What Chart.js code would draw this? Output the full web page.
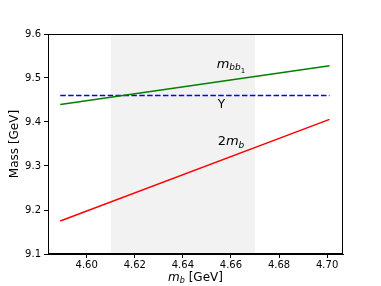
<!DOCTYPE html>
<html>
<head>
<meta charset="utf-8">
<script src="https://cdn.jsdelivr.net/npm/chart.js@4"></script>
<style>
  html, body { margin: 0; padding: 0; background: #fff; }
  canvas { display: block; }
</style>
</head>
<body>
<canvas id="grafico" width="381" height="286"></canvas>
<script>
// dados
const mbValues = [4.589, 4.701];
const mbb1Values = [9.440, 9.528];
const upsilonValues = [9.46, 9.46];
const twoMbValues = [9.175, 9.406];
const bandRange = [4.61, 4.67];
const xTicks = [4.60, 4.62, 4.64, 4.66, 4.68, 4.70];
const yTicks = [9.1, 9.2, 9.3, 9.4, 9.5, 9.6];
const xLimits = [4.5839, 4.7066];
const yLimits = [9.1, 9.6];

// posições dos rótulos (coordenadas de dados)
const labelMbb1 = { x: 4.660, y: 9.530 };
const labelUpsilon = { x: 4.656, y: 9.440 };
const labelTwoMb = { x: 4.660, y: 9.355 };

const FONT = "'DejaVu Sans', sans-serif";

function pontos(ys) {
    return mbValues.map((x, i) => ({ x: x, y: ys[i] }));
}

// faixa sombreada, caixa e textos
const extras = {
    id: 'extras',
    beforeDatasetsDraw(chart) {
        const ctx = chart.ctx, a = chart.chartArea;
        const xs = chart.scales.x;
        const x0 = xs.getPixelForValue(bandRange[0]);
        const x1 = xs.getPixelForValue(bandRange[1]);
        ctx.save();
        ctx.fillStyle = '#f2f2f2';
        ctx.fillRect(x0, a.top, x1 - x0, a.bottom - a.top);
        ctx.restore();
    },
    afterDatasetsDraw(chart) {
        const ctx = chart.ctx, a = chart.chartArea;
        const xs = chart.scales.x, ys = chart.scales.y;
        ctx.save();
        ctx.strokeStyle = '#000';
        ctx.lineWidth = 1;
        ctx.strokeRect(Math.round(a.left) + 0.5, Math.round(a.top) + 0.5,
            Math.round(a.right - a.left) - 1, Math.round(a.bottom - a.top) - 1);

        ctx.fillStyle = '#000';
        ctx.textBaseline = 'middle';

        // m_{bb_1}
        let px = xs.getPixelForValue(labelMbb1.x), py = ys.getPixelForValue(labelMbb1.y);
        ctx.font = 'italic 13px ' + FONT;
        let w1 = ctx.measureText('m').width;
        ctx.font = 'italic 9px ' + FONT;
        let w2 = ctx.measureText('bb').width;
        ctx.font = '7px ' + FONT;
        let w3 = ctx.measureText('1').width;
        let sx = px - (w1 + w2 + w3) / 2;
        ctx.textAlign = 'left';
        ctx.font = 'italic 13px ' + FONT;
        ctx.fillText('m', sx, py);
        ctx.font = 'italic 9px ' + FONT;
        ctx.fillText('bb', sx + w1, py + 3);
        ctx.font = '7px ' + FONT;
        ctx.fillText('1', sx + w1 + w2, py + 6);

        // Υ
        px = xs.getPixelForValue(labelUpsilon.x); py = ys.getPixelForValue(labelUpsilon.y);
        ctx.font = '12px ' + FONT;
        ctx.textAlign = 'center';
        ctx.fillText('Υ', px, py);

        // 2m_b
        px = xs.getPixelForValue(labelTwoMb.x); py = ys.getPixelForValue(labelTwoMb.y);
        ctx.font = '13px ' + FONT;
        let a1 = ctx.measureText('2').width;
        ctx.font = 'italic 13px ' + FONT;
        let a2 = ctx.measureText('m').width;
        ctx.font = 'italic 9px ' + FONT;
        let a3 = ctx.measureText('b').width;
        sx = px - (a1 + a2 + a3) / 2;
        ctx.textAlign = 'left';
        ctx.font = '13px ' + FONT;
        ctx.fillText('2', sx, py);
        ctx.font = 'italic 13px ' + FONT;
        ctx.fillText('m', sx + a1, py);
        ctx.font = 'italic 9px ' + FONT;
        ctx.fillText('b', sx + a1 + a2, py + 4);

        // título do eixo x: m_b [GeV]
        const cx = (a.left + a.right) / 2;
        const ty = 278;
        ctx.font = 'italic 12px ' + FONT;
        let b1 = ctx.measureText('m').width;
        ctx.font = 'italic 8px ' + FONT;
        let b2 = ctx.measureText('b').width;
        ctx.font = '12px ' + FONT;
        let b3 = ctx.measureText(' [GeV]').width;
        sx = cx - (b1 + b2 + b3) / 2;
        ctx.font = 'italic 12px ' + FONT;
        ctx.fillText('m', sx, ty);
        ctx.font = 'italic 8px ' + FONT;
        ctx.fillText('b', sx + b1, ty + 3);
        ctx.font = '12px ' + FONT;
        ctx.fillText(' [GeV]', sx + b1 + b2, ty);

        // título do eixo y
        ctx.translate(15, (a.top + a.bottom) / 2);
        ctx.rotate(-Math.PI / 2);
        ctx.textAlign = 'center';
        ctx.font = '12px ' + FONT;
        ctx.fillText('Mass [GeV]', 0, 0);
        ctx.restore();
    }
};

const linha = (label, ys, cor, dash) => ({
    label: label,
    data: pontos(ys),
    borderColor: cor,
    backgroundColor: cor,
    borderWidth: 1.5,
    borderDash: dash || [],
    showLine: true,
    pointRadius: 0,
    fill: false
});

new Chart(document.getElementById('grafico').getContext('2d'), {
    type: 'scatter',
    data: {
        datasets: [
            linha('mbb1', mbb1Values, '#008000'),
            linha('Upsilon', upsilonValues, '#0000ff', [5.5, 2.4]),
            linha('2mb', twoMbValues, '#ff0000')
        ]
    },
    options: {
        responsive: false,
        animation: false,
        layout: { padding: { left: 0, top: 34, right: 38, bottom: 0 } },
        plugins: { legend: { display: false }, tooltip: { enabled: false } },
        scales: {
            x: {
                type: 'linear',
                min: xLimits[0],
                max: xLimits[1],
                afterBuildTicks: s => { s.ticks = xTicks.map(v => ({ value: v })); },
                afterFit: s => { s.height = 32; },
                ticks: {
                    color: '#000',
                    font: { family: FONT, size: 10 },
                    padding: 1,
                    maxRotation: 0,
                    callback: v => Number(v).toFixed(2)
                },
                grid: { drawOnChartArea: false, drawTicks: true, tickLength: 4, tickColor: '#000' },
                border: { color: '#000' }
            },
            y: {
                type: 'linear',
                min: yLimits[0],
                max: yLimits[1],
                afterBuildTicks: s => { s.ticks = yTicks.map(v => ({ value: v })); },
                afterFit: s => { s.width = 48; },
                ticks: {
                    color: '#000',
                    font: { family: FONT, size: 10 },
                    padding: 3,
                    callback: v => Number(v).toFixed(1)
                },
                grid: { drawOnChartArea: false, drawTicks: true, tickLength: 4, tickColor: '#000' },
                border: { color: '#000' }
            }
        }
    },
    plugins: [extras]
});
</script>
</body>
</html>
